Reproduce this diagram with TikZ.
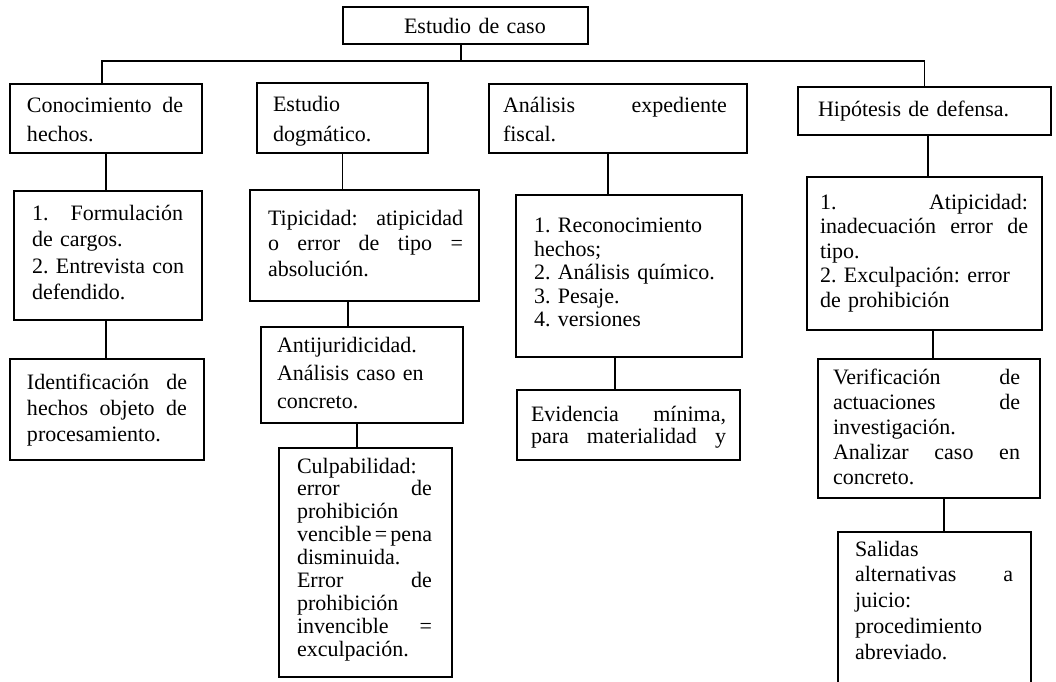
\documentclass[tikz,border=0pt]{standalone}
\usepackage{fontspec}
\setmainfont{Liberation Serif}
\setlength{\parindent}{0pt}
\frenchspacing
\newcommand{\mybox}[5]{\node[box, minimum width={(#4-#2)*1pt}, minimum height={(#5-#3)*1pt}] (#1) at ({(#2+#4)/2},{(#3+#5)/2}) {};}
\newcommand{\mytext}[6]{\node[txt=#5, text width=#4pt] (#1) at (#2,#3) {\strut #6};}
\tikzset{
 box/.style={draw=black, line width=1.5pt, inner sep=0pt, outer sep=0pt},
 txt/.style={inner sep=0pt, outer sep=0pt, anchor=north west, align=left, font=\fontsize{22}{#1}\selectfont\frenchspacing},
 link/.style={draw=black, line width=1.5pt},
}
\begin{document}
\begin{tikzpicture}[x=1pt,y=-1pt]
\useasboundingbox (0,0) rectangle (1056,681);
\fill[white] (0,0) rectangle (1056,681);
\clip (0,0) rectangle (1056,681);
% boxes
\mybox{top}{343}{7}{588}{44}
\mybox{A}{10}{84}{202}{153}
\mybox{B}{257}{83}{428}{153}
\mybox{C}{489}{84}{747}{153}
\mybox{D}{798}{87}{1051}{135}
\mybox{A2}{14}{191}{202}{320}
\mybox{A3}{10}{359}{204}{460}
\mybox{B2}{250}{190}{479}{301}
\mybox{B3}{261}{327}{463}{423}
\mybox{B4}{279}{448}{452}{677}
\mybox{C2}{516}{195}{742}{357}
\mybox{C3}{517}{390}{740}{460}
\mybox{D2}{807}{177}{1042}{330}
\mybox{D3}{818}{359}{1040}{498}
\mybox{D4}{838}{532}{1031}{700}
% texts
\mytext{ttop}{404}{15.5}{200}{25}{Estudio de caso}
\mytext{tA}{27}{91.7}{156}{29}{Conocimiento\hfill de\\hechos.}
\mytext{tB}{273}{90}{140}{30}{Estudio\\dogmático.}
\mytext{tC}{503}{91.7}{224}{29}{Análisis\hfill expediente\\fiscal.}
\mytext{tD}{818}{98.5}{220}{25}{Hipótesis de defensa.}
\mytext{tA2}{32}{201.5}{151}{26.5}{1.\hfill Formulación\\de cargos.\\\mbox{2. Entrevista con}\\defendido.}
\mytext{tA3}{27}{370.8}{160}{26}{Identificación\hfill de\\hechos\hfill objeto\hfill de\\procesamiento.}
\mytext{tB2}{268}{207.2}{195}{25.5}{Tipicidad:\hfill atipicidad\\o\hfill error\hfill de\hfill tipo\hfill =\\absolución.}
\mytext{tB3}{277}{332.4}{175}{28}{Antijuridicidad.\\Análisis caso en\\concreto.}
\mytext{tB4}{297}{457}{135}{22.9}{Culpabilidad:\\error\hfill de\\prohibición\\vencible\hspace{2pt}\hfill=\hfill\hspace{2pt}pena\\disminuida.\\Error\hfill de\\prohibición\\invencible\hfill =\\exculpación.}
\mytext{tC2}{534}{216.5}{195}{23.5}{1. Reconocimiento\\hechos;\\2. Análisis químico.\\3. Pesaje.\\4. versiones}
\mytext{tC3}{531}{405.6}{195}{22}{Evidencia\hfill mínima,\\para\hfill materialidad\hfill y}
\mytext{tD2}{820}{191.85}{208}{24.5}{1.\hfill Atipicidad:\\inadecuación\hfill error\hfill de\\tipo.\\2. Exculpación: error\\de prohibición}
\mytext{tD3}{833}{366.5}{187}{25}{Verificación\hfill de\\actuaciones\hfill de\\investigación.\\Analizar\hfill caso\hfill en\\concreto.}
\mytext{tD4}{855}{538}{158}{25.75}{Salidas\\alternativas\hfill a\\juicio:\\procedimiento\\abreviado.}
% connectors
\coordinate (J) at (461,61);
\coordinate (JA) at (102,61);
\coordinate (JD) at (D.north |- J);
\draw[link] (top.south -| J) -- (J);
\draw[link] (A.north -| JA) -- (JA) -- (JD) -- (D.north);
\draw[link] (A.south) -- (A2.north -| A.south);
\draw[link] (A2.south -| A.south) -- (A3.north -| A.south);
\draw[link] (B.south) -- (B2.north -| B.south);
\coordinate (xB3) at (348,0);
\draw[link] (B2.south -| xB3) -- (B3.north -| xB3);
\coordinate (xB4) at (357,0);
\draw[link] (B3.south -| xB4) -- (B4.north -| xB4);
\coordinate (xC2) at (608,0);
\draw[link] (C.south -| xC2) -- (C2.north -| xC2);
\coordinate (xC3) at (615,0);
\draw[link] (C2.south -| xC3) -- (C3.north -| xC3);
\coordinate (xD2) at (928,0);
\draw[link] (D.south -| xD2) -- (D2.north -| xD2);
\coordinate (xD3) at (933,0);
\draw[link] (D2.south -| xD3) -- (D3.north -| xD3);
\coordinate (xD4) at (944,0);
\draw[link] (D3.south -| xD4) -- (D4.north -| xD4);
\end{tikzpicture}
\end{document}
